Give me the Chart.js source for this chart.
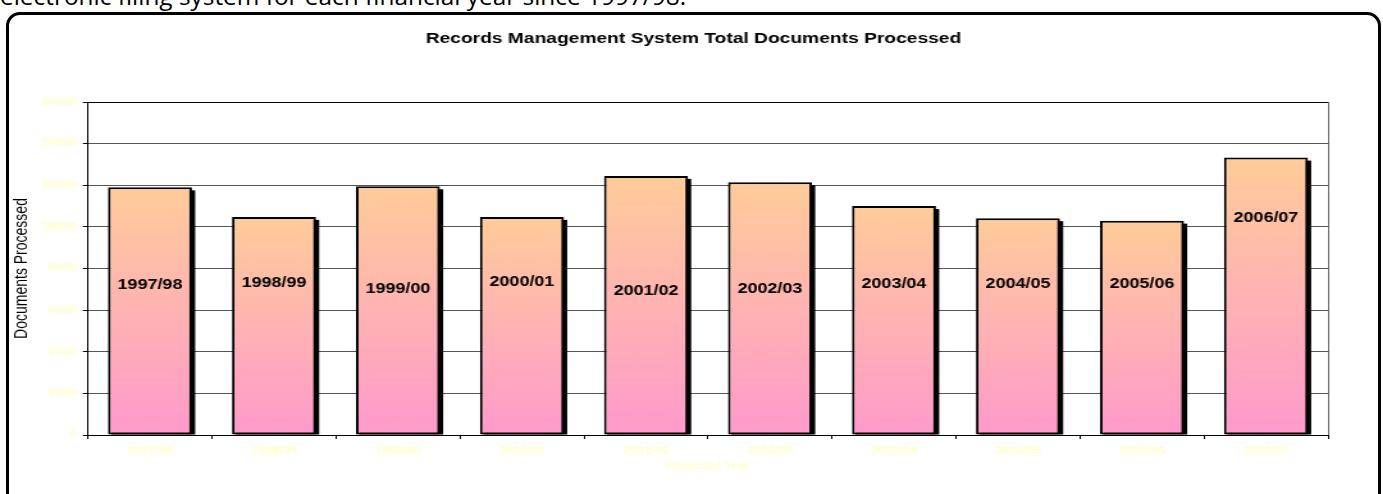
<!DOCTYPE html>
<html>
<head>
<meta charset="utf-8">
<script src="https://cdn.jsdelivr.net/npm/chart.js@4.4.1/dist/chart.umd.min.js"></script>
<style>
  html, body { margin: 0; padding: 0; background: #fff; overflow: hidden; }
  body { width: 1383px; height: 494px; position: relative; }
  .intro { position: absolute; left: 0; top: -18px; font: 24.4px "Open Sans", sans-serif; line-height: 28px; color: #000; white-space: nowrap; }
  .frame { position: absolute; left: 6px; top: 12px; width: 1375px; height: 530px; border: 3px solid #000; border-radius: 14px; box-sizing: border-box; }
  .stretch { position: absolute; left: 0; top: 0; width: 1080px; height: 494px; transform: scaleX(1.2806); transform-origin: 0 0; }
</style>
</head>
<body>
<div class="intro">electronic filing system for each financial year since 1997/98.</div>
<div class="frame"></div>
<div class="stretch"><canvas id="docsChart" width="1080" height="494"></canvas></div>
<script>
// financial years and totals
const years = ["1997/98", "1998/99", "1999/00", "2000/01", "2001/02", "2002/03", "2003/04", "2004/05", "2005/06", "2006/07"];
const documents = [11900, 10480, 11950, 10480, 12450, 12150, 11000, 10420, 10300, 13330];
const yMax = 16000;
const yStep = 2000;

const FONT = "'Liberation Sans', Arial, sans-serif";

// black drop shadow behind each bar, gray right edge of the plot
const shadowPlugin = {
    id: "barShadow",
    beforeDatasetsDraw(chart) {
        const ctx = chart.ctx;
        const area = chart.chartArea;
        ctx.save();
        ctx.strokeStyle = "#666";
        ctx.lineWidth = 1;
        ctx.beginPath();
        ctx.moveTo(Math.round(area.right) + 0.5, area.top);
        ctx.lineTo(Math.round(area.right) + 0.5, area.bottom);
        ctx.stroke();
        ctx.fillStyle = "#000";
        chart.getDatasetMeta(0).data.forEach((bar) => {
            const p = bar.getProps(["x", "y", "base", "width"], true);
            ctx.fillRect(p.x - p.width / 2 + 2.5, p.y + 3, p.width, p.base - p.y - 3);
        });
        ctx.restore();
    }
};

// year written inside each bar
const barLabelPlugin = {
    id: "barLabels",
    afterDatasetsDraw(chart, args, opts) {
        const ctx = chart.ctx;
        const yScale = chart.scales.y;
        ctx.save();
        ctx.font = "bold 14px " + FONT;
        ctx.fillStyle = "#000";
        ctx.textAlign = "center";
        ctx.textBaseline = "middle";
        chart.getDatasetMeta(0).data.forEach((bar, i) => {
            ctx.fillText(chart.data.labels[i], bar.x, yScale.getPixelForValue(opts.levels[i]));
        });
        ctx.restore();
    }
};

function barGradient(context) {
    const chart = context.chart;
    const yScale = chart.scales.y;
    if (!yScale || context.type !== "data") return "#ffcc99";
    const top = yScale.getPixelForValue(context.raw);
    const base = yScale.getPixelForValue(0);
    if (!isFinite(top) || !isFinite(base)) return "#ffcc99";
    const g = chart.ctx.createLinearGradient(0, top, 0, base);
    g.addColorStop(0, "#ffcc99");
    g.addColorStop(1, "#ff99cc");
    return g;
}

new Chart(document.getElementById("docsChart"), {
    type: "bar",
    data: {
        labels: years,
        datasets: [{
            label: "Documents Processed",
            data: documents,
            backgroundColor: barGradient,
            borderColor: "#000",
            borderWidth: 2,
            borderSkipped: false,
            categoryPercentage: 1,
            barPercentage: 0.6775
        }]
    },
    options: {
        responsive: false,
        devicePixelRatio: 1,
        animation: false,
        layout: { padding: { left: 21.5, right: 18.5, top: 0, bottom: 0 } },
        plugins: {
            legend: { display: false },
            tooltip: { enabled: false },
            title: {
                display: true,
                text: "Records Management System Total Documents Processed",
                color: "#000",
                font: { family: FONT, size: 15, weight: "bold", lineHeight: 1.2 },
                padding: { top: 30, bottom: 54 }
            },
            barLabels: { levels: [7200, 7300, 7000, 7350, 6900, 7000, 7250, 7250, 7250, 10400] }
        },
        scales: {
            x: {
                grid: { drawOnChartArea: false, tickLength: 4, color: "#000" },
                border: { color: "#000", width: 1 },
                ticks: { color: "#ffffcc", padding: 6, font: { family: FONT, size: 10, weight: "bold" } },
                title: {
                    display: true,
                    text: "Financial Year",
                    color: "#ffffcc",
                    font: { family: FONT, size: 10, weight: "bold", lineHeight: 1.2 },
                    padding: { top: 0, bottom: 22 }
                },
                afterFit(scale) { scale.height = 59; }
            },
            y: {
                min: 0,
                max: yMax,
                ticks: {
                    stepSize: yStep,
                    color: "#ffffcc",
                    padding: 4.6,
                    font: { family: FONT, size: 10, weight: "bold" },
                    callback: (v) => String(v)
                },
                grid: {
                    color: (c) => (c.tick && c.tick.value === yMax ? "#000" : "#555"),
                    tickColor: "#000",
                    tickLength: 4,
                    lineWidth: 1
                },
                border: { color: "#000", width: 1 },
                title: {
                    display: true,
                    text: "Documents Processed",
                    color: "#000",
                    font: { family: FONT, size: 14, lineHeight: 1.2 },
                    padding: { top: -13, bottom: 0 }
                },
                afterFit(scale) { scale.width = 47.2; }
            },
            // empty right-hand spacer so the title centres like the original
            spacer: {
                position: "right",
                display: true,
                grid: { display: false },
                border: { display: false },
                ticks: { display: false },
                afterFit(scale) { scale.width = 24.5; }
            }
        }
    },
    plugins: [shadowPlugin, barLabelPlugin]
});
</script>
</body>
</html>
